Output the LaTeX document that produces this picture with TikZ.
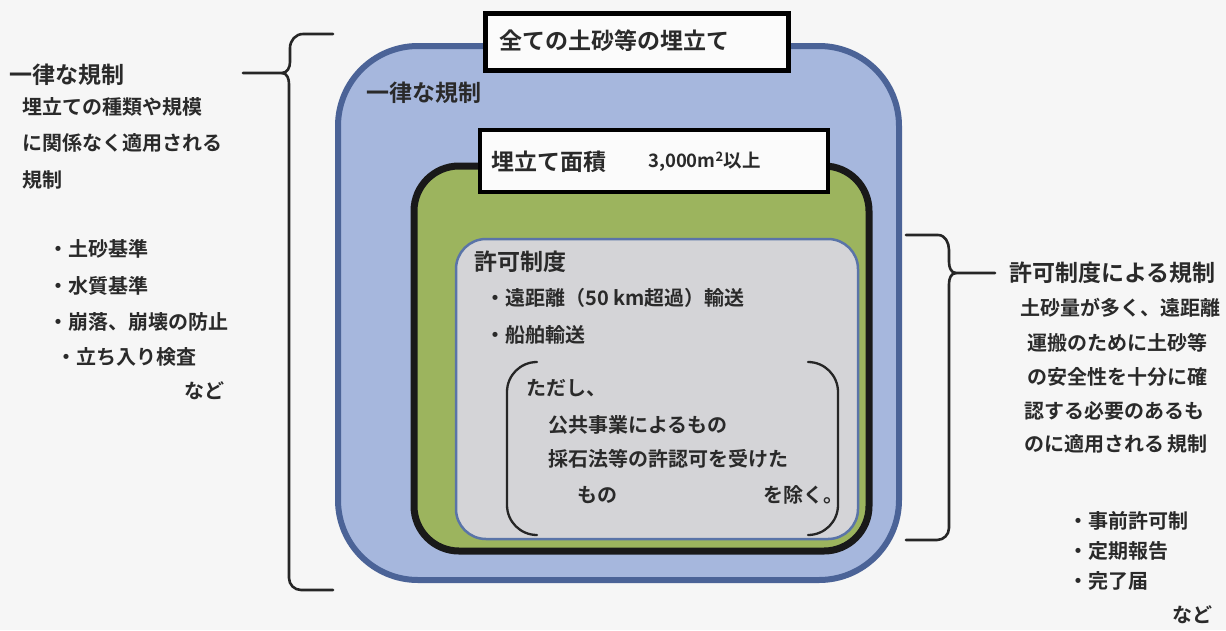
\documentclass[tikz,border=0pt]{standalone}
\usepackage{fontspec}
\setmainfont{Noto Sans CJK JP}[BoldFont=* Bold]
\definecolor{bgc}{HTML}{F6F6F6}
\definecolor{bluefill}{HTML}{A6B7DD}
\definecolor{blueedge}{HTML}{4B6397}
\definecolor{greenfill}{HTML}{9CB45E}
\definecolor{grayfill}{HTML}{D4D4D7}
\definecolor{grayedge}{HTML}{5A74A8}
\definecolor{txt}{HTML}{2A2A2A}
\tikzset{
  lbl/.style={anchor=west,inner sep=0pt,text=txt,font=\fontsize{20}{20}\selectfont\bfseries},
  head/.style={lbl,font=\fontsize{23}{23}\selectfont\bfseries},
  small/.style={lbl,font=\fontsize{18.5}{18.5}\selectfont\bfseries},
  brace/.style={draw=black!85,line width=2.6pt,line cap=round,line join=round},
  whitebox/.style={draw=black,fill=white!97!gray}
}
\begin{document}
\begin{tikzpicture}[x=1pt,y=-1pt]
\fill[bgc] (0,0) rectangle (1226,630);
\useasboundingbox (0,0) rectangle (1226,630);

% outer blue region
\draw[blueedge,line width=6pt,fill=bluefill,rounded corners=80pt] (338,46) rectangle (899,580);
% top title box
\draw[whitebox,line width=5pt] (485,13) rectangle (788,70);
\node[head] (t1) at (499,41) {全ての土砂等の埋立て};
\node[head] (t2) at (366,93) {一律な規制};

% green region
\draw[black!90,line width=7pt,fill=greenfill,rounded corners=45pt] (414,166) rectangle (869,551);
% area box
\draw[whitebox,line width=4pt] (480,130) rectangle (828,192);
\node[head] (a1) at (491,162) {埋立て面積};
\node[small] (a2) at (648,162) {3,000m\textsuperscript{2}以上};

% gray region
\draw[grayedge,line width=2.5pt,fill=grayfill,rounded corners=30pt] (456,239) rectangle (858,539);
\node[head] (g1) at (474,262) {許可制度};
\node[lbl] (g2) at (485,298) {・遠距離（50 km超過）輸送};
\node[lbl] (g3) at (485,335) {・船舶輸送};
% parentheses
\draw[brace,line width=2.3pt] (537,362) to[out=180,in=90] (507,392) -- (507,505) to[out=-90,in=180] (537,535);
\draw[brace,line width=2.3pt] (808,362) to[out=0,in=90] (838,392) -- (838,505) to[out=-90,in=0] (808,535);
\node[lbl] (p1) at (526,388) {ただし、};
\node[lbl] (p2) at (548,425) {公共事業によるもの};
\node[lbl] (p3) at (548,459) {採石法等の許認可を受けた};
\node[lbl] (p4) at (577,495) {もの};
\node[lbl] (p5) at (763,495) {を除く。};

% left brace
\coordinate (lt) at (333,34);
\coordinate (lb) at (333,590);
\coordinate (ltip) at (243,73);
\draw[brace] (lt) -- (303,34) to[out=180,in=90] (290,48) -- (290,62) to[out=-90,in=0] (282,73) -- (ltip);
\draw[brace] (282,73) to[out=0,in=90] (289,84) -- (289,578) to[out=-90,in=180] (301,590) -- (lb);

% left texts
\node[head] (l1) at (9,75) {一律な規制};
\node[lbl] (l2) at (22,107) {埋立ての種類や規模};
\node[lbl] (l3) at (22,143) {に関係なく適用される};
\node[lbl] (l4) at (22,180) {規制};
\node[lbl] (l5) at (48,249) {・土砂基準};
\node[lbl] (l6) at (48,286) {・水質基準};
\node[lbl] (l7) at (48,322) {・崩落、崩壊の防止};
\node[lbl] (l8) at (56,357) {・立ち入り検査};
\node[lbl] (l9) at (184,391) {など};

% right brace
\coordinate (rt) at (906,235);
\coordinate (rb) at (906,540);
\coordinate (rtip) at (995,273);
\draw[brace] (rt) -- (938,235) to[out=0,in=90] (949,250) -- (949,262) to[out=-90,in=180] (956,273) -- (rtip);
\draw[brace] (956,273) to[out=180,in=90] (949,284) -- (949,528) to[out=-90,in=0] (937,540) -- (rb);

% right texts
\node[head] (r1) at (1009,273) {許可制度による規制};
\node[lbl] (r2) at (1020,308) {土砂量が多く、遠距離};
\node[lbl] (r3) at (1027,343) {運搬のために土砂等};
\node[lbl] (r4) at (1027,377) {の安全性を十分に確};
\node[lbl] (r5) at (1024,411) {認する必要のあるも};
\node[lbl] (r6) at (1024,444) {のに適用される\,規制};
\node[lbl] (r7) at (1068,521) {・事前許可制};
\node[lbl] (r8) at (1068,551) {・定期報告};
\node[lbl] (r9) at (1068,581) {・完了届};
\node[lbl] (r10) at (1172,615) {など};
\end{tikzpicture}
\end{document}
